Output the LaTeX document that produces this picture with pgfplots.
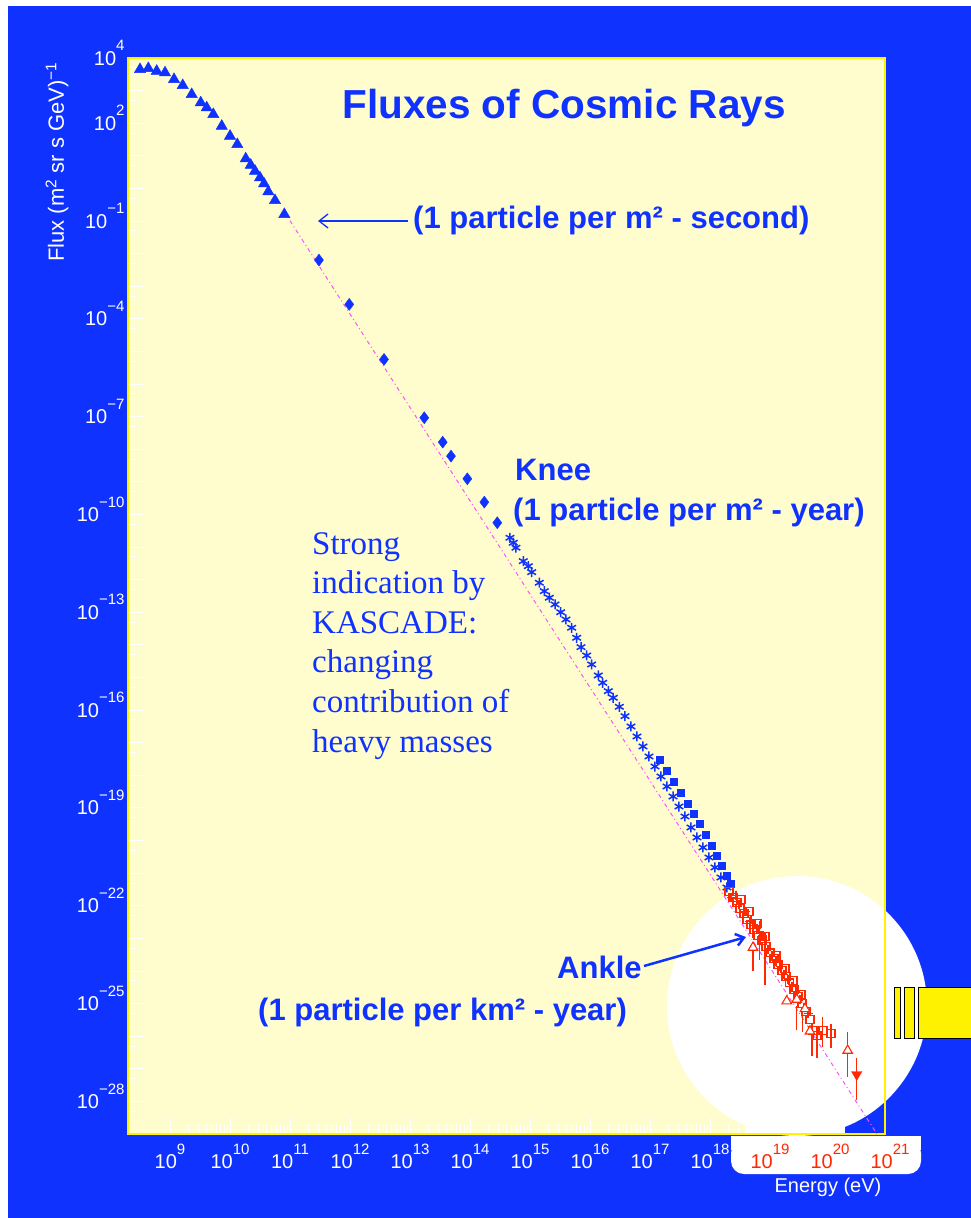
\documentclass[border=0pt]{standalone}
\usepackage{pgfplots}
\pgfplotsset{compat=1.18}
\usepackage{fontspec}
\setmainfont{Liberation Sans}
\newfontfamily\seriffont{Liberation Serif}
\usetikzlibrary{arrows.meta}

\definecolor{bgblue}{RGB}{16,50,255}
\definecolor{paper}{RGB}{255,252,205}
\definecolor{datared}{RGB}{255,40,0}
\definecolor{fitpink}{RGB}{255,80,255}

% power-of-ten tick label with raised exponent
\newcommand{\ten}[1]{10\raisebox{0.72em}{\fontsize{15}{15}\selectfont #1}}

\begin{document}
\begin{tikzpicture}[x=1pt,y=1pt]
\useasboundingbox (0,0) rectangle (971,-1218);
\fill[white] (0,0) rectangle (971,-1218);
\fill[bgblue] (8,-6) rectangle (971,-1218);
% plot area and the white highlight disc
\fill[paper] (128,-58) rectangle (885,-1134);
\fill[bgblue] (835,-1088) rectangle (885,-1134);
\fill[white] (797,-1006) circle[radius=130];
\fill[white] (745,-1100) rectangle (845,-1134);

\begin{axis}[
  at={(128pt,-1134pt)}, anchor=south west,
  width=757pt, height=1076pt, scale only axis,
  xmode=log, ymode=log,
  xmin=1.995e8, xmax=8.26e20, ymin=1e-29, ymax=1e4,
  axis line style={draw=yellow, line width=1.2pt},
  tick align=inside, tick pos=left,
  major tick length=16pt, minor tick length=9pt,
  tick style={white, line width=1pt},
  xtick={1e9,1e10,1e11,1e12,1e13,1e14,1e15,1e16,1e17,1e18,1e19,1e20},
  xticklabels={\ten{9},\ten{10},\ten{11},\ten{12},\ten{13},\ten{14},\ten{15},\ten{16},\ten{17},\ten{18},{},{}},
  ytick={1e-29,1e-28,1e-27,1e-26,1e-25,1e-24,1e-23,1e-22,1e-21,1e-20,1e-19,1e-18,1e-17,1e-16,1e-15,1e-14,1e-13,1e-12,1e-11,1e-10,1e-9,1e-8,1e-7,1e-6,1e-5,1e-4,1e-3,1e-2,1e-1,1,1e1,1e2,1e3,1e4},
  yticklabels={{},\ten{−28},{},{},\ten{−25},{},{},\ten{−22},{},{},\ten{−19},{},{},\ten{−16},{},{},\ten{−13},{},{},\ten{−10},{},{},\ten{−7},{},{},\ten{−4},{},{},\ten{−1},{},{},\ten{2},{},\ten{4}},
  minor ytick={5e-29,5e-28,5e-27,5e-26,5e-25,5e-24,5e-23,5e-22,5e-21,5e-20,5e-19,5e-18,5e-17,5e-16,5e-15,5e-14,5e-13,5e-12,5e-11,5e-10,5e-9,5e-8,5e-7,5e-6,5e-5,5e-4,5e-3,5e-2,5e-1,5,5e1,5e2,5e3},
  xticklabel style={anchor=base, yshift=-34.7pt, text=white, font=\fontsize{20}{20}\selectfont},
  yticklabel style={anchor=base east, yshift=-7pt, text=white, font=\fontsize{20}{20}\selectfont},
  unbounded coords=jump,
  clip=true,
]
% power-law guide line
\addplot[fitpink, line width=1pt, dash pattern=on 4pt off 3pt on 1pt off 3pt]
  coordinates {(7.94e10,0.1986) (6.07e20,1e-29)};

% low-energy direct measurements
\addplot[only marks, mark=triangle*, mark size=6.5pt, color=bgblue] coordinates {
(3.16e8,4500) (4.35e8,4830) (6.0e8,3990) (8.26e8,3560) (1.167e9,2220) (1.63e9,1455)
(2.30e9,771) (3.25e9,429) (4.09e9,301) (5.27e9,187.5) (7.28e9,82.0) (1.0e10,40.5)
(1.324e10,22.5) (1.828e10,8.20) (2.213e10,5.22) (2.61e10,3.42) (3.16e10,2.14)
(3.69e10,1.40) (4.35e10,0.798) (5.62e10,0.432) (8.04e10,0.161)};

\addplot[only marks, mark=diamond*, mark size=6pt, color=bgblue] coordinates {
(3.04e11,6.37e-3) (9.72e11,2.79e-4) (3.69e12,5.73e-6) (1.73e13,9.31e-8) (3.51e13,1.66e-8)
(4.82e13,6.18e-9) (9.02e13,1.25e-9) (1.73e14,2.40e-10) (2.85e14,5.60e-11)};

% air-shower data around the knee
\addplot[only marks, mark=asterisk, mark size=5pt, color=bgblue, mark options={line width=1.5pt}] coordinates {
(4.64e14,1.94e-11) (5.27e14,1.365e-11) (5.84e14,9.59e-12) (7.73e14,3.72e-12) (9.37e14,2.61e-12)
(1.067e15,1.71e-12) (1.429e15,8.09e-13) (1.73e15,4.47e-13) (2.10e15,2.81e-13) (2.61e15,1.75e-13)
(3.25e15,1.01e-13) (3.98e15,6.05e-14) (4.95e15,3.37e-14) (6.00e15,1.66e-14) (7.08e15,8.57e-15)
(8.81e15,4.76e-15) (1.067e16,2.52e-15) (1.374e16,1.16e-15) (1.63e16,6.92e-16) (2.02e16,3.83e-16)
(2.44e16,2.40e-16) (3.08e16,1.27e-16) (3.83e16,6.55e-17) (4.82e16,3.16e-17) (6.07e16,1.56e-17)
(7.64e16,7.71e-18) (9.62e16,3.80e-18) (1.211e17,1.87e-18) (1.524e17,9.25e-19) (1.92e17,4.57e-19)
(2.42e17,2.25e-19) (3.04e17,1.11e-19) (3.83e17,5.48e-20) (4.82e17,2.52e-20) (6.07e17,1.245e-20)
(7.64e17,6.14e-21) (9.62e17,3.03e-21) (1.211e18,1.50e-21) (1.524e18,7.38e-22) (1.92e18,3.64e-22)};

\addplot[only marks, mark=square*, mark size=3.5pt, color=bgblue] coordinates {
(1.468e17,3.08e-18) (1.92e17,1.41e-18) (2.51e17,6.50e-19) (3.29e17,2.99e-19) (4.30e17,1.374e-19)
(5.41e17,6.78e-20) (6.81e17,3.35e-20) (8.57e17,1.54e-20) (1.08e18,7.08e-21) (1.309e18,3.49e-21)
(1.585e18,1.72e-21) (1.92e18,8.49e-22) (2.24e18,4.83e-22)};

% ultra-high-energy data: error bars first, then markers
\addplot[color=datared, draw=datared, line width=1.3pt] coordinates {
(6.64e18,3.37e-23) (6.64e18,2.25e-24) (6.64e18,nan)
(8.26e18,1.52e-23) (8.26e18,3.85e-25) (8.26e18,nan)
(5.21e18,5.77e-24) (5.21e18,9.86e-25) (5.21e18,nan)
(2.79e19,8.32e-26) (2.79e19,1.60e-26) (2.79e19,nan)
(3.51e19,6.59e-26) (3.51e19,1.39e-26) (3.51e19,nan)
(5.01e19,2.63e-26) (5.01e19,2.56e-27) (5.01e19,nan)
(6.07e19,1.85e-26) (6.07e19,2.22e-27) (6.07e19,nan)
(7.45e19,4.02e-26) (7.45e19,4.83e-27) (7.45e19,nan)
(1.04e20,2.29e-26) (1.04e20,4.20e-27) (1.04e20,nan)
(1.97e20,1.30e-26) (1.97e20,5.81e-28) (1.97e20,nan)
(2.79e20,2.22e-27) (2.79e20,1.14e-28)};

\addplot[only marks, color=datared, mark=+, mark size=4.5pt, mark options={line width=1.6pt}] coordinates {
(2.24e18,1.80e-22) (2.71e18,2.07e-22) (3.04e18,1.10e-22) (3.55e18,4.38e-23) (3.98e18,6.68e-23)
(4.64e18,3.30e-23) (5.21e18,1.41e-23) (6.07e18,2.01e-23) (6.81e18,9.25e-24) (7.64e18,1.23e-23)
(9.27e18,4.57e-24) (1.08e19,2.79e-24) (1.259e19,1.95e-24) (1.468e19,1.374e-24) (1.71e19,7.82e-25)
(2.0e19,5.48e-25) (2.33e19,3.35e-25) (2.71e19,2.35e-25) (3.16e19,1.34e-25) (3.69e19,7.59e-26)
(4.30e19,4.97e-26)};

\addplot[only marks, color=datared, mark=square, mark size=4pt, mark options={line width=1.1pt}] coordinates {
(2.07e18,2.75e-22) (2.42e18,1.80e-22) (2.82e18,1.26e-22) (3.16e18,8.26e-23) (3.69e18,5.81e-23)
(4.14e18,3.80e-23) (4.82e18,2.67e-23) (5.41e18,1.87e-23) (6.31e18,1.23e-23) (7.36e18,8.63e-24)
(8.57e18,5.65e-24) (1.0e19,3.70e-24) (1.167e19,2.42e-24) (1.36e19,1.585e-24) (1.585e19,1.035e-24)
(1.85e19,6.78e-25) (2.15e19,4.44e-25) (2.51e19,2.71e-25) (2.93e19,1.65e-25) (3.41e19,1.007e-25)
(3.98e19,5.73e-26) (4.64e19,3.25e-26) (5.21e19,1.50e-26) (6.07e19,1.05e-26) (7.64e19,1.50e-26)
(1.04e20,1.21e-26)
(3.29e18,1.56e-22) (4.47e18,6.68e-23) (6.07e18,2.86e-23) (8.26e18,1.14e-23) (1.259e19,2.99e-24)
(1.778e19,1.19e-24) (2.42e19,5.12e-25) (3.29e19,1.90e-25)};

\addplot[only marks, color=datared, mark=triangle*, mark size=5.5pt, mark options={fill=white, line width=1.1pt}] coordinates {
(5.21e18,5.26e-24) (1.90e19,1.19e-25) (2.79e19,1.34e-25) (3.83e19,6.92e-26) (4.64e19,1.42e-26)
(1.97e20,3.64e-27)};

\addplot[only marks, mark=triangle*, mark size=6pt, color=datared, mark options={rotate=180}] coordinates {
(2.79e20,6.68e-28)};
\end{axis}

% white label plate for the highest decades
\fill[white] (731,-1135.8) rectangle (921,-1150);
\fill[white, rounded corners=13pt] (731,-1140) rectangle (921,-1174);
\node[anchor=base, text=datared, font=\fontsize{20}{20}\selectfont] at (770,-1168.7) {\ten{19}};
\node[anchor=base, text=datared, font=\fontsize{20}{20}\selectfont] at (830,-1168.7) {\ten{20}};
\node[anchor=base, text=datared, font=\fontsize{20}{20}\selectfont] at (890,-1168.7) {\ten{21}};

% axis titles
\node[rotate=90, text=white, font=\fontsize{22}{22}\selectfont] at (57,-162) {Flux (m\textsuperscript{2} sr s GeV)\textsuperscript{−1}};
\node[text=white, font=\fontsize{20}{20}\selectfont] at (828,-1187) {Energy (eV)};

% annotations
\node[anchor=base, inner sep=0, text=bgblue, font=\bfseries\fontsize{40.5}{40.5}\selectfont] at (564,-118) {Fluxes of Cosmic Rays};
\draw[bgblue, line width=1.3pt, -{Straight Barb[length=9pt, width=14pt]}] (408,-221) -- (318,-221);
\node[anchor=base west, inner sep=0, text=bgblue, font=\bfseries\fontsize{31}{31}\selectfont] at (413,-228) {(1 particle per m² - second)};
\node[anchor=base west, inner sep=0, text=bgblue, font=\bfseries\fontsize{31}{31}\selectfont] at (515,-480) {Knee};
\node[anchor=base west, inner sep=0, text=bgblue, font=\bfseries\fontsize{31}{31}\selectfont] at (513,-520) {(1 particle per m² - year)};
\node[anchor=base west, inner sep=0, text=bgblue, font=\bfseries\fontsize{31}{31}\selectfont] at (557,-978) {Ankle};
\node[anchor=base west, inner sep=0, text=bgblue, font=\bfseries\fontsize{31}{31}\selectfont] at (258,-1020) {(1 particle per km² - year)};
\draw[bgblue, line width=2.5pt, -{Straight Barb[length=8pt, width=12pt]}] (644,-966) -- (746,-937);
\node[anchor=north west, inner sep=0, align=left, text=bgblue, font=\seriffont\fontsize{33}{39.6}\selectfont] at (312,-532)
  {Strong\\indication by\\KASCADE:\\changing\\contribution of\\heavy masses};

% yellow bars at the right border
\filldraw[fill=yellow, draw=black, line width=1pt] (894,-987) rectangle (900,-1038);
\filldraw[fill=yellow, draw=black, line width=1pt] (904,-987) rectangle (914,-1038);
\filldraw[fill=yellow, draw=black, line width=1pt] (918,-987) rectangle (975,-1038);
\end{tikzpicture}
\end{document}
